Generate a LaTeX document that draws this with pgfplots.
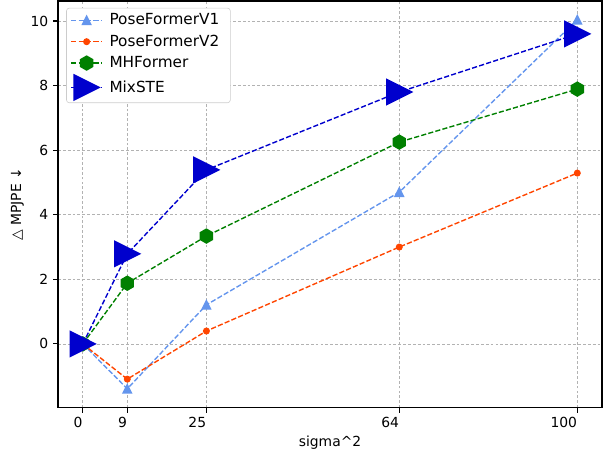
\documentclass[border=0pt]{standalone}
\usepackage{fontspec}
\setmainfont{DejaVu Sans}
\usepackage{pgfplots}
\pgfplotsset{compat=1.18}
\usetikzlibrary{calc}
\definecolor{cfblue}{HTML}{6495ED}
\definecolor{ored}{HTML}{FF4500}
\definecolor{mgreen}{HTML}{008000}
\definecolor{mblue}{HTML}{0000CD}
\pgfdeclareplotmark{mtriup}{%
  \pgfpathmoveto{\pgfqpoint{0pt}{\pgfplotmarksize}}%
  \pgfpathlineto{\pgfqpoint{-\pgfplotmarksize}{-\pgfplotmarksize}}%
  \pgfpathlineto{\pgfqpoint{\pgfplotmarksize}{-\pgfplotmarksize}}%
  \pgfpathclose\pgfusepathqfillstroke}
\pgfdeclareplotmark{mtriright}{%
  \pgfpathmoveto{\pgfqpoint{\pgfplotmarksize}{0pt}}%
  \pgfpathlineto{\pgfqpoint{-\pgfplotmarksize}{\pgfplotmarksize}}%
  \pgfpathlineto{\pgfqpoint{-\pgfplotmarksize}{-\pgfplotmarksize}}%
  \pgfpathclose\pgfusepathqfillstroke}
\pgfdeclareplotmark{mhex}{%
  \pgfpathmoveto{\pgfpointpolar{90}{\pgfplotmarksize}}%
  \pgfpathlineto{\pgfpointpolar{150}{\pgfplotmarksize}}%
  \pgfpathlineto{\pgfpointpolar{210}{\pgfplotmarksize}}%
  \pgfpathlineto{\pgfpointpolar{270}{\pgfplotmarksize}}%
  \pgfpathlineto{\pgfpointpolar{330}{\pgfplotmarksize}}%
  \pgfpathlineto{\pgfpointpolar{30}{\pgfplotmarksize}}%
  \pgfpathclose\pgfusepathqfillstroke}
\begin{document}
\begin{tikzpicture}
\begin{axis}[
  name=ax,
  scale only axis,
  width=391.7pt, height=293pt,
  xmin=-5, xmax=105,
  ymin=-1.98, ymax=10.62,
  xtick={0,9,25,64,100},
  ytick={0,2,4,6,8,10},
  tick pos=left,
  tick align=outside,
  major tick length=3.5pt,
  every tick/.style={black, line width=0.8pt},
  axis line style={black, line width=0.8pt},
  grid=major,
  major grid style={color=black!30, line width=0.6pt, dash pattern=on 2pt off 1.5pt},
  /pgf/number format/assume math mode=true,
  font=\fontsize{10pt}{12pt}\selectfont,
  ticklabel style={font=\fontsize{10pt}{12pt}\selectfont},
  xticklabel style={anchor=north east, inner xsep=0pt},
  xlabel={sigma\textasciicircum 2},
  ylabel={△ MPJPE ↓},
  xlabel style={yshift=1pt},
  ylabel style={yshift=-2pt},
  legend cell align=left,
  legend style={at={(0.015,0.983)}, anchor=north west, draw=black!20, fill=white, rounded corners=2pt, font=\fontsize{11pt}{13pt}\selectfont, inner xsep=3pt, inner ysep=2pt, row sep=1.8pt, nodes={inner xsep=5pt}},
  legend image code/.code={\draw[mark repeat=2,mark phase=2] plot coordinates {(0pt,0pt)(11pt,0pt)(22pt,0pt)};},
]
\addplot[color=cfblue, line width=1pt, dash pattern=on 3.7pt off 1.6pt, mark=mtriup, mark size=3pt, mark options={solid, fill=cfblue}]
  coordinates {(0,0) (9,-1.39) (25,1.21) (64,4.70) (100,10.04)};
\addlegendentry{PoseFormerV1}
\addplot[color=ored, line width=1pt, dash pattern=on 3.7pt off 1.6pt, mark=*, mark size=2pt, mark options={solid, fill=ored}]
  coordinates {(0,0) (9,-1.09) (25,0.40) (64,3.00) (100,5.29)};
\addlegendentry{PoseFormerV2}
\addplot[color=mgreen, line width=1pt, dash pattern=on 3.7pt off 1.6pt, mark=mhex, mark size=5pt, mark options={solid, fill=mgreen}]
  coordinates {(0,0) (9,1.88) (25,3.34) (64,6.25) (100,7.89)};
\addlegendentry{MHFormer}
\addplot[color=mblue, line width=1pt, dash pattern=on 3.7pt off 1.6pt, mark=mtriright, mark size=9pt, mark options={solid, fill=mblue}]
  coordinates {(0,0) (9,2.79) (25,5.39) (64,7.80) (100,9.60)};
\addlegendentry{MixSTE}
\end{axis}
\pgfresetboundingbox
\path[use as bounding box] ($(ax.south west)+(-41.8pt,-34.6pt)$) rectangle ($(ax.north east)+(0.7pt,0.7pt)$);
\end{tikzpicture}
\end{document}
